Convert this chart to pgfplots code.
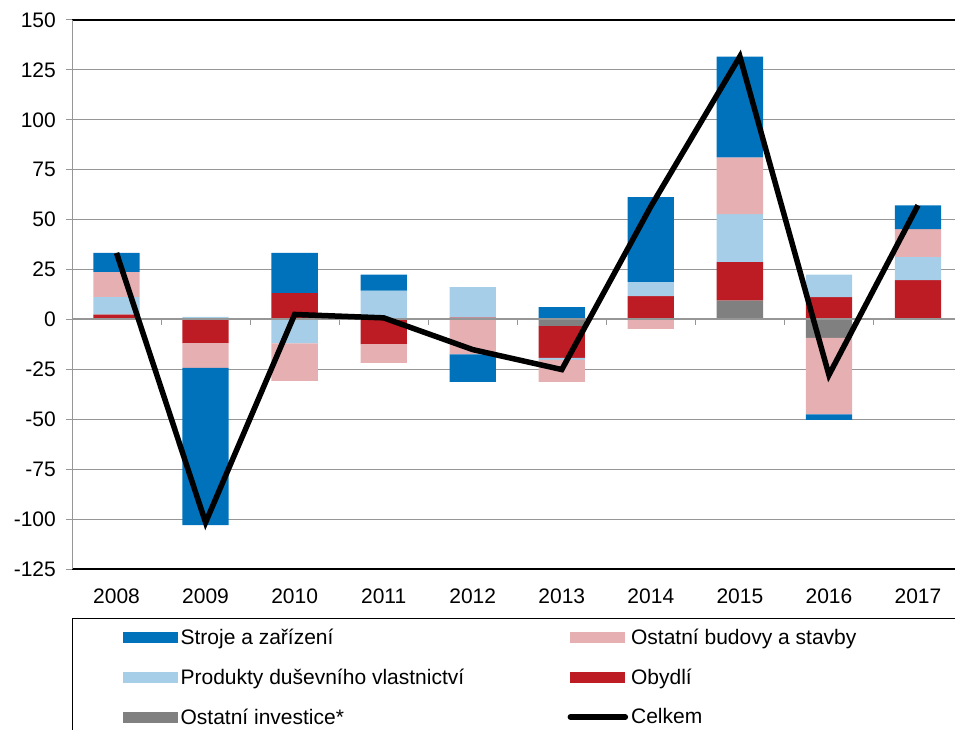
\documentclass[border=0pt]{standalone}
\usepackage{fontspec}
\setmainfont{Liberation Sans}
\usepackage{pgfplots}
\pgfplotsset{compat=1.18}
\usepackage{pgfplotstable}

\definecolor{cStroje}{RGB}{0,114,188}
\definecolor{cBudovy}{RGB}{230,176,178}
\definecolor{cProdukty}{RGB}{166,206,232}
\definecolor{cObydli}{RGB}{190,28,36}
\definecolor{cOstatni}{RGB}{128,128,128}
\definecolor{cGrid}{RGB}{150,150,150}

% signed contributions; positives stack upwards, negatives downwards
\pgfplotstableread{
x grey red lb pink blue total
0 0 2.5 8.8 12.5 9.5 33.3
1 0 -12 1.3 -12.2 -78.8 -101.7
2 0 13.3 -12 -18.8 20 2.5
3 0 -12.5 14.5 -9.2 8 0.8
4 0 1 15.2 -17.5 -13.8 -15.1
5 -3.3 -15.9 -1.1 -11 6.2 -25.1
6 0 11.7 7.1 -4.7 42.5 56.6
7 9.5 19.3 24 28.4 50.5 131.7
8 -9.2 11.2 11.3 -38.3 -2.8 -27.8
9 0 19.7 11.6 14 11.9 57.2
}\datatable

\pgfplotsset{
  barleg/.style={legend image code/.code={\fill[##1] (0pt,-5.5pt) rectangle (55pt,5.5pt);}},
  lineleg/.style={legend image code/.code={\draw[##1] (0pt,0pt) -- (55pt,0pt);}},
}

\begin{document}
\begin{tikzpicture}[x=1pt,y=1pt]
\begin{axis}[
  at={(72pt,160pt)}, anchor=south west,
  scale only axis, width=890.5pt, height=549pt,
  ybar stacked, bar width=0.52,
  reverse stacked plots=false,
  xmin=-0.5, xmax=9.5, ymin=-125, ymax=150,
  axis line style={draw=none},
  xtick={0,...,9},
  xticklabels={2008,2009,2010,2011,2012,2013,2014,2015,2016,2017},
  ytick={-125,-100,-75,-50,-25,0,25,50,75,100,125,150},
  yticklabels={-125,-100,-75,-50,-25,0,25,50,75,100,125,150},
  ytick pos=left,
  ymajorgrids, grid style={cGrid, line width=0.9pt},
  major tick length=6pt,
  tick align=outside,
  xtick style={draw=none},
  ytick style={cGrid, line width=1pt},
  ticklabel style={font=\fontsize{21}{25}\selectfont},
  yticklabel style={inner sep=0pt, xshift=-10pt},
  xticklabel style={inner sep=0pt, yshift=-14pt},
  legend style={at={(0,-0.0893)}, anchor=north west, draw=black, line width=1.2pt,
    font=\fontsize{21}{25}\selectfont, inner xsep=50pt, inner ysep=10pt,
    row sep=23pt, nodes={inner sep=0pt},
    /tikz/every odd column/.append style={column sep=3pt}},
  legend columns=2, legend cell align=left,
]
\addlegendimage{barleg, fill=cStroje, draw=none}
\addlegendentry{\makebox[387pt][l]{Stroje a zařízení}}
\addlegendimage{barleg, fill=cBudovy, draw=none}
\addlegendentry{\makebox[400pt][l]{Ostatní budovy a stavby}}
\addlegendimage{barleg, fill=cProdukty, draw=none}
\addlegendentry{\makebox[387pt][l]{Produkty duševního vlastnictví}}
\addlegendimage{barleg, fill=cObydli, draw=none}
\addlegendentry{\makebox[400pt][l]{Obydlí}}
\addlegendimage{barleg, fill=cOstatni, draw=none}
\addlegendentry{\makebox[387pt][l]{Ostatní investice*}}
\addlegendimage{lineleg, black, line width=5.5pt, line cap=round}
\addlegendentry{\makebox[400pt][l]{Celkem}}

\addplot[fill=cOstatni, draw=none] table[x=x, y=grey] {\datatable};
\addplot[fill=cObydli, draw=none] table[x=x, y=red] {\datatable};
\addplot[fill=cProdukty, draw=none] table[x=x, y=lb] {\datatable};
\addplot[fill=cBudovy, draw=none] table[x=x, y=pink] {\datatable};
\addplot[fill=cStroje, draw=none] table[x=x, y=blue] {\datatable};

\draw[black, line width=2pt] (axis cs:-0.5,150) -- (axis cs:9.5,150);
\draw[black, line width=2pt] (axis cs:-0.5,-125) -- (axis cs:9.5,-125);
\draw[cGrid, line width=2pt] (axis cs:-0.5,0) -- (axis cs:9.5,0);
\pgfplotsinvokeforeach{0.5,1.5,2.5,3.5,4.5,5.5,6.5,7.5,8.5}{
  \draw[cGrid, line width=1pt] (axis cs:#1,0) -- ++(0pt,-6pt);
}
\draw[cGrid, line width=2.5pt] (axis cs:-0.5,-125) -- (axis cs:-0.5,150);

\addplot[stack plots=false, sharp plot, black, line width=5.5pt, mark=none] table[x=x, y=total] {\datatable};
\end{axis}
\pgfresetboundingbox
\useasboundingbox (0,0) rectangle (955,729);
\end{tikzpicture}
\end{document}
